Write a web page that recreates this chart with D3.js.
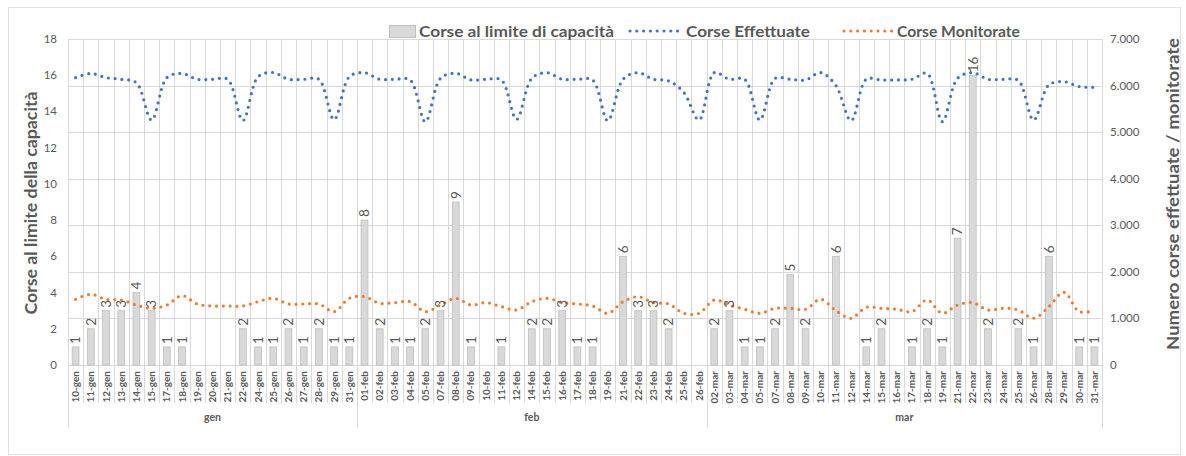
<!DOCTYPE html>
<html><head><meta charset="utf-8">
<script src="https://cdn.jsdelivr.net/npm/d3@7"></script>
<style>
html,body{margin:0;padding:0;background:#fff;}
svg{display:block;font-family:Lato,"Open Sans",sans-serif;}
</style></head>
<body><svg id="c" width="1186" height="456"></svg>
<script>
const months = ["gen","feb","mar"];
const genDays = ["10-gen","11-gen","12-gen","13-gen","14-gen","15-gen","17-gen","18-gen","19-gen","20-gen","21-gen","22-gen","24-gen","25-gen","26-gen","27-gen","28-gen","29-gen","31-gen"];
const febDays = ["01-feb","02-feb","03-feb","04-feb","05-feb","07-feb","08-feb","09-feb","10-feb","11-feb","12-feb","14-feb","15-feb","16-feb","17-feb","18-feb","19-feb","21-feb","22-feb","23-feb","24-feb","25-feb","26-feb"];
const marDays = ["02-mar","03-mar","04-mar","05-mar","07-mar","08-mar","09-mar","10-mar","11-mar","12-mar","14-mar","15-mar","16-mar","17-mar","18-mar","19-mar","21-mar","22-mar","23-mar","24-mar","25-mar","26-mar","28-mar","29-mar","30-mar","31-mar"];

const capGen = [1,2,3,3,4,3,1,1,0,0,0,2,1,1,2,1,2,1,1];
const capFeb = [8,2,1,1,2,3,9,1,0,1,0,2,2,3,1,1,0,6,3,3,2,0,0];
const capMar = [2,3,1,1,2,5,2,0,6,0,1,2,0,1,2,1,7,16,2,0,2,1,6,0,1,1];

const effGen = [6170,6260,6170,6135,6060,5260,6170,6260,6135,6135,6135,5250,6190,6280,6135,6135,6135,5270,6190];
const effFeb = [6277,6135,6135,6120,5225,6155,6263,6120,6135,6120,5275,6155,6277,6135,6135,6120,5247,6135,6277,6135,6100,5850,5260];
const effMar = [6277,6135,6135,5261,6155,6135,6120,6277,6000,5247,6135,6120,6120,6135,6263,5225,6155,6277,6135,6135,6110,5261,6012,6084,5977,5962];

const monGen = [1411,1518,1411,1397,1288,1217,1288,1489,1310,1267,1267,1267,1360,1432,1310,1310,1310,1146,1432];
const monFeb = [1467,1325,1340,1360,1146,1288,1432,1288,1340,1253,1181,1360,1432,1340,1310,1267,1110,1360,1467,1340,1310,1110,1110];
const monMar = [1396,1288,1196,1110,1217,1217,1196,1411,1167,1003,1238,1217,1196,1146,1396,1110,1288,1340,1181,1217,1181,1003,1250,1561,1146,1167];

const leftTicks = [0,2,4,6,8,10,12,14,16,18];
const rightTicks = [0,1000,2000,3000,4000,5000,6000,7000];

const groups = [genDays, febDays, marDays];
const categories = [].concat(genDays, febDays, marDays);
const capacita = [].concat(capGen, capFeb, capMar);
const effettuate = [].concat(effGen, effFeb, effMar);
const monitorate = [].concat(monGen, monFeb, monMar);

const svg = d3.select("#c");
const L = 68, R = 1102, T = 39, B = 365;
const gray = "#595959", grid = "#d9d9d9";

// outer frame
svg.append("rect").attr("x",8.5).attr("y",7.5).attr("width",1172).attr("height",447)
  .attr("fill","none").attr("stroke","#e3e3e3");

const x = d3.scaleBand().domain(categories).range([L,R]).padding(0);
const yL = d3.scaleLinear().domain([0,18]).range([B,T]);
const yR = d3.scaleLinear().domain([0,7000]).range([B,T]);

// horizontal gridlines (right axis)
svg.append("g").selectAll("line").data(rightTicks).join("line")
  .attr("x1",L).attr("x2",R).attr("y1",d=>Math.round(yR(d))+0.5).attr("y2",d=>Math.round(yR(d))+0.5)
  .attr("stroke",grid).attr("stroke-width",1);

// vertical gridlines at category boundaries
const bounds = categories.map(c=>x(c)).concat([R]);
svg.append("g").selectAll("line").data(bounds).join("line")
  .attr("x1",d=>Math.round(d)+0.5).attr("x2",d=>Math.round(d)+0.5).attr("y1",T).attr("y2",B)
  .attr("stroke",grid);

// category separators in axis area
svg.append("g").selectAll("line").data(bounds).join("line")
  .attr("x1",d=>Math.round(d)+0.5).attr("x2",d=>Math.round(d)+0.5).attr("y1",B).attr("y2",403)
  .attr("stroke",grid);
// group separators
let idx = 0; const gb = [L];
groups.forEach(g=>{ idx += g.length; gb.push(idx < categories.length ? x(categories[idx]) : R); });
svg.append("g").selectAll("line").data(gb).join("line")
  .attr("x1",d=>Math.round(d)+0.5).attr("x2",d=>Math.round(d)+0.5).attr("y1",B).attr("y2",428)
  .attr("stroke",grid);

// bars
const bw = x.bandwidth()*0.45;
const barData = categories.map((c,i)=>({c, v:capacita[i]})).filter(d=>d.v>0);
svg.append("g").selectAll("rect").data(barData).join("rect")
  .attr("x",d=>x(d.c)+x.bandwidth()/2-bw/2).attr("width",bw)
  .attr("y",d=>yL(d.v)).attr("height",d=>B-yL(d.v))
  .attr("fill","#d9d9d9").attr("stroke","#bfbfbf").attr("stroke-width",0.8);

// lines
const line = (sc)=>d3.line().x((d,i)=>x(categories[i])+x.bandwidth()/2).y(d=>sc(d)).curve(d3.curveCatmullRom.alpha(0.5));
svg.append("path").datum(effettuate).attr("d",line(yR)).attr("fill","none")
  .attr("stroke","#4472c4").attr("stroke-width",3.2).attr("stroke-linecap","round").attr("stroke-dasharray","0 6.8");
svg.append("path").datum(monitorate).attr("d",line(yR)).attr("fill","none")
  .attr("stroke","#ed7d31").attr("stroke-width",3.2).attr("stroke-linecap","round").attr("stroke-dasharray","0 6.8");

// bar labels
svg.append("g").selectAll("text").data(barData).join("text")
  .attr("transform",d=>`translate(${x(d.c)+x.bandwidth()/2+4.8},${yL(d.v)-3}) rotate(-90)`)
  .attr("text-anchor","start").attr("font-size",13.5).attr("fill",gray).text(d=>d.v);

// category labels
svg.append("g").selectAll("text").data(categories).join("text")
  .attr("transform",d=>`translate(${x(d)+x.bandwidth()/2+3.5},371) rotate(-90)`)
  .attr("text-anchor","end").attr("font-size",10).attr("font-weight","bold").attr("fill",gray).text(d=>d);

// month labels
groups.forEach((g,i)=>{
  svg.append("text").attr("x",(gb[i]+gb[i+1])/2).attr("y",421).attr("text-anchor","middle")
    .attr("font-size",10.5).attr("font-weight","bold").attr("fill",gray).text(months[i]);
});

// left ticks
svg.append("g").selectAll("text").data(leftTicks).join("text")
  .attr("x",57).attr("y",d=>yL(d)+4).attr("text-anchor","end").attr("font-size",11.5).attr("fill",gray).text(d=>d);
// right ticks
const fmt = d3.formatLocale({decimal:",",thousands:".",grouping:[3],currency:["€",""]}).format(",d");
svg.append("g").selectAll("text").data(rightTicks).join("text")
  .attr("x",1110).attr("y",d=>yR(d)+4).attr("text-anchor","start").attr("font-size",11.5).attr("fill",gray).text(d=>fmt(d));

// axis titles
svg.append("text").attr("transform","translate(37,203) rotate(-90)").attr("text-anchor","middle")
  .attr("font-size",17).attr("font-weight","bold").attr("fill",gray)
  .attr("textLength",223).attr("lengthAdjust","spacingAndGlyphs").text("Corse al limite della capacità");
svg.append("text").attr("transform","translate(1179,194) rotate(-90)").attr("text-anchor","middle")
  .attr("font-size",17).attr("font-weight","bold").attr("fill",gray)
  .attr("textLength",312).attr("lengthAdjust","spacingAndGlyphs").text("Numero corse effettuate / monitorate");

// legend
const lg = svg.append("g").attr("font-size",16).attr("font-weight","bold").attr("fill",gray);
lg.append("rect").attr("x",389.5).attr("y",25.5).attr("width",26).attr("height",12).attr("fill","#d9d9d9").attr("stroke","#bfbfbf");
lg.append("text").attr("x",419).attr("y",37).attr("textLength",195).attr("lengthAdjust","spacingAndGlyphs").text("Corse al limite di capacità");
lg.append("line").attr("x1",630).attr("x2",680).attr("y1",31).attr("y2",31).attr("stroke","#4472c4").attr("stroke-width",3.2).attr("stroke-linecap","round").attr("stroke-dasharray","0 6.8");
lg.append("text").attr("x",686).attr("y",37).attr("textLength",124).attr("lengthAdjust","spacingAndGlyphs").text("Corse Effettuate");
lg.append("line").attr("x1",844).attr("x2",892).attr("y1",31).attr("y2",31).attr("stroke","#ed7d31").attr("stroke-width",3.2).attr("stroke-linecap","round").attr("stroke-dasharray","0 6.8");
lg.append("text").attr("x",897).attr("y",37).attr("textLength",123).attr("lengthAdjust","spacingAndGlyphs").text("Corse Monitorate");
</script></body></html>
